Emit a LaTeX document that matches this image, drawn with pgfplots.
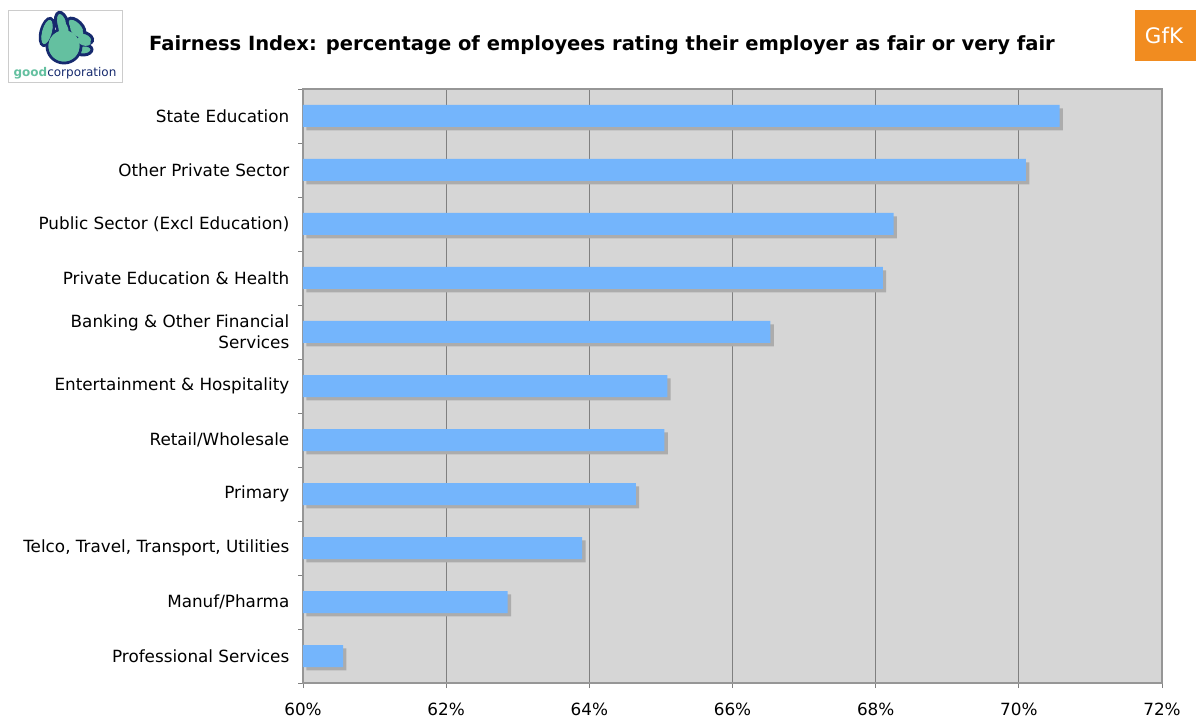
\documentclass[border=0pt]{standalone}
\usepackage{fontspec}
\setmainfont{DejaVu Sans}
\usepackage{pgfplots}
\pgfplotsset{compat=1.18}
\definecolor{barblue}{RGB}{116,181,252}
\definecolor{bgray}{RGB}{214,214,214}
\definecolor{shadowc}{RGB}{172,172,172}
\definecolor{gridc}{RGB}{128,128,128}
\definecolor{framec}{RGB}{150,150,150}
\definecolor{gfk}{RGB}{241,140,32}
\definecolor{gcgreen}{RGB}{100,192,160}
\definecolor{gcnavy}{RGB}{22,42,110}

\pgfplotstableread{
idx value
0 70.57
1 70.10
2 68.25
3 68.10
4 66.53
5 65.09
6 65.05
7 64.65
8 63.90
9 62.86
10 60.56
}\datatable

\begin{document}
\begin{tikzpicture}
\path[use as bounding box] (0,0) rectangle (897pt,540pt);
\begin{axis}[
  at={(227.25pt,27.75pt)}, anchor=south west,
  scale only axis, width=644.25pt, height=445.5pt,
  xmin=60, xmax=72, ymin=-0.5, ymax=10.5, y dir=reverse,
  axis background/.style={fill=bgray},
  axis line style={draw=framec, line width=0.9pt},
  xtick={60,62,...,72},
  xticklabel={\pgfmathprintnumber{\tick}\%},
  xmajorgrids, grid style={draw=gridc, line width=0.7pt},
  xtick pos=bottom, ytick pos=left,
  tick align=outside, major tick length=3.75pt, minor tick length=3.75pt,
  x tick style={draw=gridc, line width=0.7pt},
  ytick={0,...,10},
  yticklabels={State Education, Other Private Sector, Public Sector (Excl Education), Private Education \& Health, {Banking \& Other Financial\\Services}, Entertainment \& Hospitality, Retail/Wholesale, Primary, {Telco, Travel, Transport, Utilities}, Manuf/Pharma, Professional Services},
  major y tick style={draw=none},
  minor ytick={-0.5,0.5,...,10.5},
  minor y tick style={draw=gridc, line width=0.7pt},
  yticklabel style={align=right, font=\fontsize{12.6}{15.75}\selectfont, xshift=-3pt},
  xticklabel style={font=\fontsize{12.6}{14}\selectfont, yshift=-8pt},
  /pgf/number format/assume math mode=true,
  clip=true,
]
\addplot[xbar, bar shift=0pt, bar width=16.5pt, fill=shadowc, draw=none, xshift=2.5pt, yshift=-2.5pt] table[x=value, y=idx] {\datatable};
\addplot[xbar, bar shift=0pt, bar width=16.5pt, fill=barblue, draw=none] table[x=value, y=idx] {\datatable};
\end{axis}
\begin{scope}[x=0.75pt, y=-0.75pt, shift={(0,540pt)}]
  % title
  \node[font=\fontsize{14.65}{17}\selectfont\bfseries] at (602,45) {Fairness Index: percentage of employees rating their employer as fair or very fair};
  % left logo
  \draw[draw=black!20, line width=0.5pt, fill=white] (8,10) rectangle (122,82);
  \begin{scope}[line width=2.2pt]
    \filldraw[fill=gcgreen, draw=gcnavy, rotate around={-15:(47,32)}] (47,32) ellipse (6 and 14);
    \filldraw[fill=gcgreen, draw=gcnavy, rotate around={15:(62,24)}] (62,24) ellipse (6 and 12);
    \filldraw[fill=gcgreen, draw=gcnavy, rotate around={45:(76,27)}] (76,27) ellipse (6 and 11);
    \filldraw[fill=gcgreen, draw=gcnavy, rotate around={70:(84,38)}] (84,38) ellipse (5.5 and 9);
    \filldraw[fill=gcgreen, draw=gcnavy, rotate around={95:(84,50)}] (84,50) ellipse (5 and 8);
    \filldraw[fill=gcgreen, draw=gcnavy] (64,46) circle (17);
    \fill[gcgreen] (64,46) circle (15.5);
    \fill[gcgreen, rotate around={-15:(47,32)}] (47,32) ellipse (4.8 and 12.5);
    \fill[gcgreen, rotate around={15:(62,24)}] (62,30) ellipse (4.8 and 9);
    \fill[gcgreen, rotate around={45:(76,27)}] (74,30) ellipse (4.8 and 8);
    \fill[gcgreen, rotate around={70:(84,38)}] (81,39) ellipse (4.3 and 7);
  \end{scope}
  \node[font=\fontsize{9}{10}\selectfont, inner sep=0pt] at (65,73) {\textcolor{gcgreen}{\bfseries good}\textcolor{gcnavy}{corporation}};
  % right logo
  \fill[gfk] (1135,10) rectangle (1196,61);
  \node[font=\fontsize{16}{17}\selectfont, text=white] at (1164,36) {GfK};
\end{scope}
\end{tikzpicture}
\end{document}
